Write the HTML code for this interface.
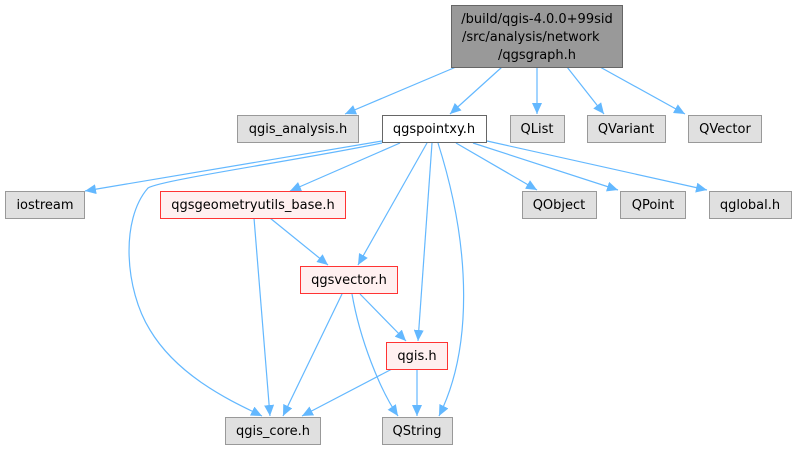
<!DOCTYPE html>
<html><head><meta charset="utf-8"><style>
html,body{margin:0;padding:0;background:#fff;width:796px;height:451px;overflow:hidden}
text{font-family:"DejaVu Sans","Liberation Sans",sans-serif;font-size:13px;fill:#000}
</style></head><body>
<svg width="796" height="451" viewBox="0 0 796 451" xmlns="http://www.w3.org/2000/svg">
<defs><marker id="a" markerWidth="12" markerHeight="10" refX="11" refY="5" orient="auto" markerUnits="userSpaceOnUse"><path d="M0,0 L11,5 L0,10 Z" fill="#63b8ff"/></marker></defs>
<g fill="none" stroke="#63b8ff" stroke-width="1.2" marker-end="url(#a)">
<path d="M456,67 L345,114"/>
<path d="M502,67 L450,114"/>
<path d="M537,67 L537,114"/>
<path d="M567,67 L604,114"/>
<path d="M600,67 L685,114"/>
<path d="M382,141 L85,191"/>
<path d="M382,143 C300,160 160,180 148,188 C120,220 125,290 150,330 C180,380 240,405 262,416"/>
<path d="M400,143 L290,191"/>
<path d="M427,143 L358,265"/>
<path d="M432,143 L418,341"/>
<path d="M438,143 C472,250 472,350 439,416"/>
<path d="M456,143 L537,190"/>
<path d="M473,143 L618,190"/>
<path d="M487,141 L707,190"/>
<path d="M254,218 L270,416"/>
<path d="M270,218 L328,265"/>
<path d="M342,294 L283,416"/>
<path d="M352,294 C360,340 380,390 398,416"/>
<path d="M360,294 L406,341"/>
<path d="M392,369 L302,416"/>
<path d="M417,369 L417,416"/>
</g>
<g stroke-width="1">
<rect x="451.5" y="5.5" width="171" height="62" fill="#999" stroke="#666"/>
<rect x="237.5" y="115.5" width="121" height="27" fill="#e0e0e0" stroke="#999"/>
<rect x="382.5" y="115.5" width="104" height="27" fill="#fff" stroke="#666"/>
<rect x="510.5" y="115.5" width="54" height="27" fill="#e0e0e0" stroke="#999"/>
<rect x="587.5" y="115.5" width="78" height="27" fill="#e0e0e0" stroke="#999"/>
<rect x="688.5" y="115.5" width="73" height="27" fill="#e0e0e0" stroke="#999"/>
<rect x="5.5" y="191.5" width="79" height="27" fill="#e0e0e0" stroke="#999"/>
<rect x="160.5" y="191.5" width="185" height="27" fill="#fff0f0" stroke="#f33"/>
<rect x="522.5" y="191.5" width="74" height="27" fill="#e0e0e0" stroke="#999"/>
<rect x="620.5" y="191.5" width="65" height="27" fill="#e0e0e0" stroke="#999"/>
<rect x="709.5" y="191.5" width="82" height="27" fill="#e0e0e0" stroke="#999"/>
<rect x="300.5" y="266.5" width="97" height="27" fill="#fff0f0" stroke="#f33"/>
<rect x="386.5" y="342.5" width="61" height="27" fill="#fff0f0" stroke="#f33"/>
<rect x="225.5" y="417.5" width="95" height="27" fill="#e0e0e0" stroke="#999"/>
<rect x="382.5" y="417.5" width="70" height="27" fill="#e0e0e0" stroke="#999"/>
</g>
<g text-anchor="middle">
<text x="537" y="23">/build/qgis-4.0.0+99sid</text>
<text x="462" y="41" text-anchor="start">/src/analysis/network</text>
<text x="537" y="59">/qgsgraph.h</text>
<text x="298" y="133">qgis_analysis.h</text>
<text x="434" y="133">qgspointxy.h</text>
<text x="537" y="133">QList</text>
<text x="626" y="133">QVariant</text>
<text x="725" y="133">QVector</text>
<text x="45" y="209">iostream</text>
<text x="253" y="209">qgsgeometryutils_base.h</text>
<text x="559" y="209">QObject</text>
<text x="653" y="209">QPoint</text>
<text x="750" y="209">qglobal.h</text>
<text x="349" y="284">qgsvector.h</text>
<text x="417" y="360">qgis.h</text>
<text x="273" y="435">qgis_core.h</text>
<text x="417" y="435">QString</text>
</g>
</svg>
</body></html>
